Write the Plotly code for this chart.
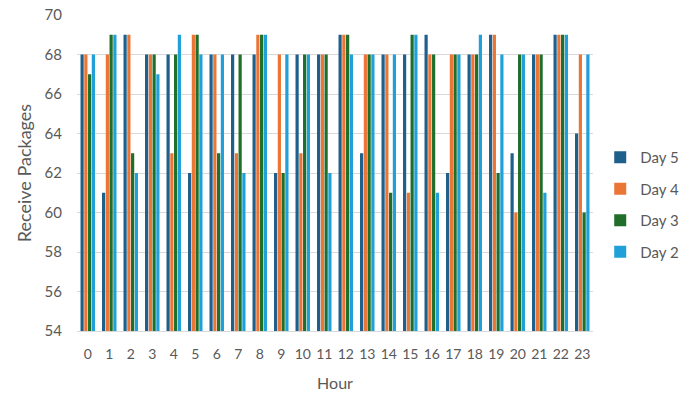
import plotly.graph_objects as go

hours = [str(h) for h in range(24)]
day5 = [68, 61, 69, 68, 68, 62, 68, 68, 68, 62, 68, 68, 69, 63, 68, 68, 69, 62, 68, 69, 63, 68, 69, 64]
day4 = [68, 68, 69, 68, 63, 69, 68, 63, 69, 68, 63, 68, 69, 68, 68, 61, 68, 68, 68, 69, 60, 68, 69, 68]
day3 = [67, 69, 63, 68, 68, 69, 63, 68, 69, 62, 68, 68, 69, 68, 61, 69, 68, 68, 68, 62, 68, 68, 69, 60]
day2 = [68, 69, 62, 67, 69, 68, 68, 62, 69, 68, 68, 62, 68, 68, 68, 69, 61, 68, 69, 68, 68, 61, 69, 68]

series = [("Day 5", day5, "#1F5F8B"), ("Day 4", day4, "#EB7535"),
          ("Day 3", day3, "#1F6E2A"), ("Day 2", day2, "#1FA0D8")]

fig = go.Figure()
for name, vals, col in series:
    fig.add_trace(go.Bar(x=hours, y=vals, name=name, marker_color=col,
                         marker_line_width=0, legendgroup=name))

gray = "#595959"
font = dict(family="Lato, Carlito, Liberation Sans, sans-serif", size=14, color=gray)
fig.update_layout(
    width=681, height=393,
    margin=dict(l=77, r=88, t=15, b=62, autoexpand=False),
    paper_bgcolor="white", plot_bgcolor="white",
    barmode="group", bargap=0.3, bargroupgap=0.15,
    font=font,
    xaxis=dict(title=dict(text="Hour", font=dict(size=16, color=gray), standoff=17),
               showgrid=False, showline=True, linecolor="#D9D9D9", ticks="",
               tickfont=dict(size=14), ticklabelstandoff=10),
    yaxis=dict(title=dict(text="Receive Packages", font=dict(size=18, color=gray), standoff=8),
               range=[54, 70], dtick=2, showgrid=True, gridcolor="#D9D9D9", gridwidth=1,
               zeroline=False, showline=False, tickfont=dict(size=15), ticklabelstandoff=14),
    legend=dict(x=1.014, y=0.40, xanchor="left", yanchor="middle",
                font=dict(size=15, color=gray), tracegroupgap=9,
                bgcolor="rgba(0,0,0,0)"),
    showlegend=True,
)
fig.write_html("out.html", config={"displayModeBar": False},
               post_script="document.body.style.margin='0';")
